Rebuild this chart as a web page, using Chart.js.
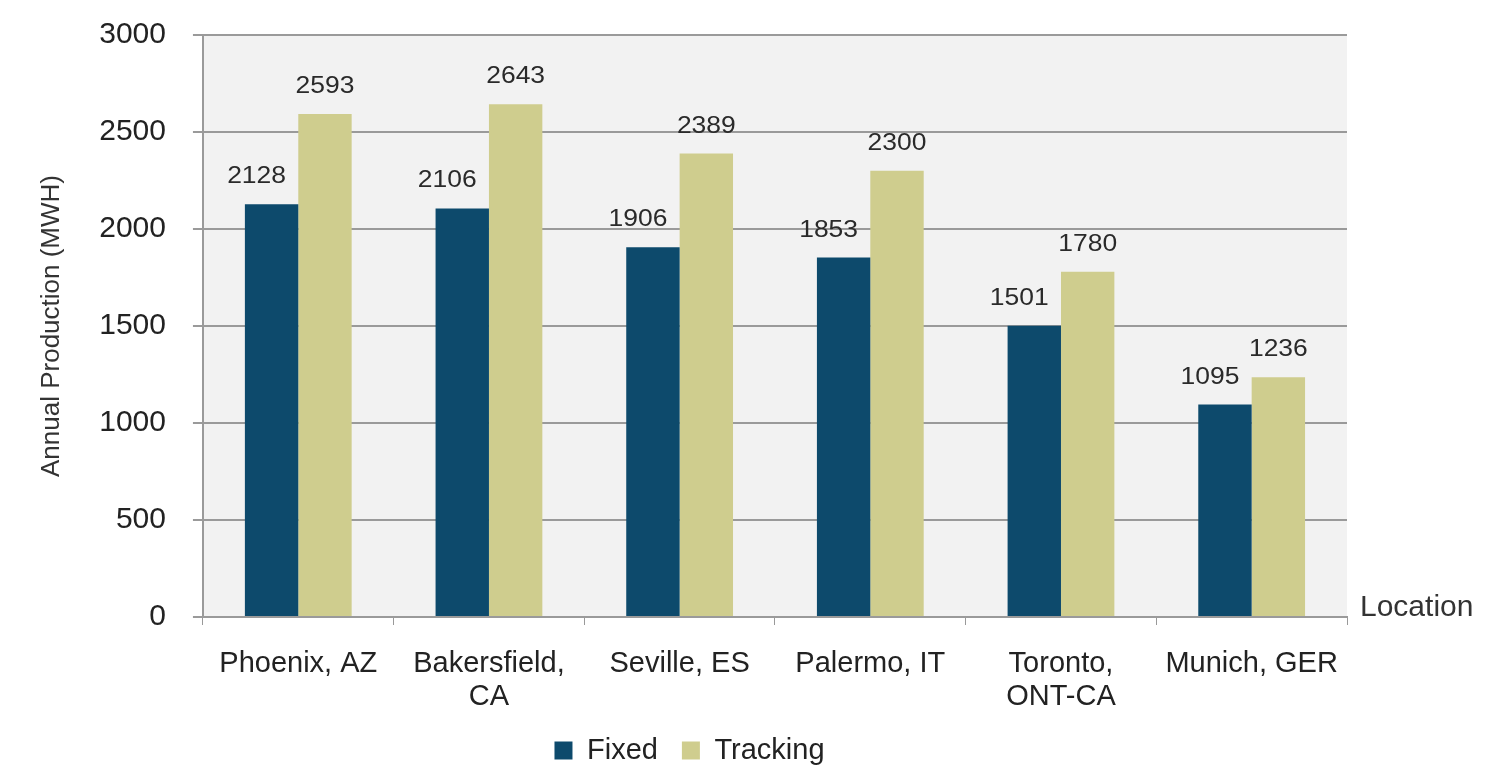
<!DOCTYPE html>
<html>
<head>
<meta charset="utf-8">
<script src="https://cdn.jsdelivr.net/npm/chart.js@4"></script>
<style>
  html, body { margin: 0; padding: 0; background: #ffffff; }
  #wrap { width: 1485px; height: 769px; }
</style>
</head>
<body>
<div id="wrap"><canvas id="chart"></canvas></div>
<script>
const locations = ["Phoenix, AZ", ["Bakersfield,", "CA"], "Seville, ES", "Palermo, IT", ["Toronto,", "ONT-CA"], "Munich, GER"];
const fixed = [2128, 2106, 1906, 1853, 1501, 1095];
const tracking = [2593, 2643, 2389, 2300, 1780, 1236];

const fontMain = "'Liberation Sans', Arial, sans-serif";

// grey panel behind the bars
const panelBg = {
  id: "panelBg",
  beforeDraw(chart) {
    const { ctx, chartArea: a } = chart;
    ctx.save();
    ctx.fillStyle = "#f2f2f2";
    ctx.fillRect(a.left, a.top, a.right - a.left, a.bottom - a.top);
    ctx.restore();
  }
};

// numbers over the bars + the "Location" word at the right end of the axis
const labelShift = [-15, 0];
const barLabels = {
  id: "barLabels",
  afterDatasetsDraw(chart) {
    const ctx = chart.ctx;
    ctx.save();
    ctx.font = "23px " + fontMain;
    ctx.fillStyle = "#2a2a2a";
    ctx.textAlign = "center";
    ctx.textBaseline = "alphabetic";
    chart.data.datasets.forEach((ds, i) => {
      chart.getDatasetMeta(i).data.forEach((bar, j) => {
        ctx.save();
        ctx.translate(bar.x + labelShift[i], bar.y - 21);
        ctx.scale(1.15, 1);
        ctx.fillText(ds.data[j], 0, 0);
        ctx.restore();
      });
    });
    const xs = chart.scales.x;
    ctx.font = "30px " + fontMain;
    ctx.fillStyle = "#333";
    ctx.textAlign = "left";
    ctx.textBaseline = "middle";
    ctx.fillText("Location", xs.right + 13, xs.top - 9);
    ctx.restore();
  }
};

new Chart(document.getElementById("chart"), {
  type: "bar",
  plugins: [panelBg, barLabels],
  data: {
    labels: locations,
    datasets: [
      { label: "Fixed", data: fixed, backgroundColor: "#0d4a6c" },
      { label: "Tracking", data: tracking, backgroundColor: "#cfcd8e" }
    ]
  },
  options: {
    responsive: true,
    maintainAspectRatio: false,
    animation: false,
    layout: { padding: { top: 35, right: 138, bottom: -6, left: 32 } },
    datasets: { bar: { categoryPercentage: 0.56, barPercentage: 1.0 } },
    scales: {
      x: {
        afterFit: s => { s.height = 95; },
        grid: { drawOnChartArea: false, color: "#999", tickLength: 8, offset: true },
        border: { color: "#9a9a9a", width: 2 },
        ticks: { color: "#222", font: { size: 29, family: fontMain, lineHeight: 1.15 }, padding: 22, maxRotation: 0 }
      },
      y: {
        min: 0,
        max: 3000,
        afterFit: s => { s.paddingTop = 0; s.paddingBottom = 0; },
        ticks: {
          stepSize: 500,
          color: "#222",
          font: { size: 30, family: fontMain },
          padding: 27,
          callback: v => String(v)
        },
        grid: { color: "#9a9a9a", lineWidth: 2, tickLength: 10 },
        border: { color: "#9a9a9a", width: 2 },
        title: {
          display: true,
          text: "Annual Production (MWH)",
          color: "#333",
          font: { size: 26, family: fontMain },
          padding: { top: 4, bottom: 5 }
        }
      }
    },
    plugins: {
      tooltip: { enabled: false },
      legend: {
        position: "bottom",
        labels: {
          color: "#222",
          font: { size: 29, family: fontMain },
          boxWidth: 18,
          boxHeight: 18,
          padding: 24
        }
      }
    }
  }
});
</script>
</body>
</html>
